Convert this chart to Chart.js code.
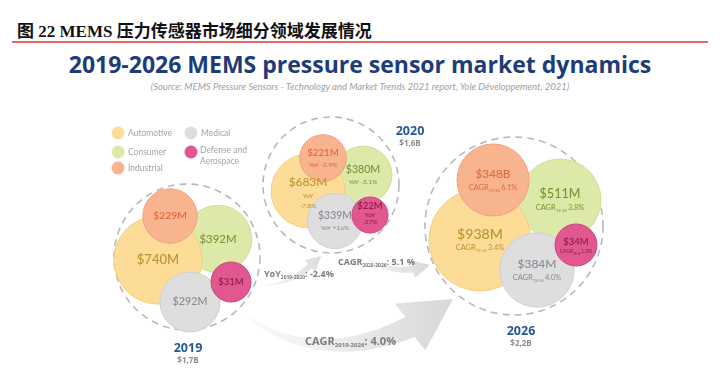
<!DOCTYPE html>
<html>
<head>
<meta charset="utf-8">
<script src="https://cdn.jsdelivr.net/npm/chart.js@4.4.1/dist/chart.umd.min.js"></script>
<style>
  html, body { margin: 0; padding: 0; background: #fff; }
  #wrap { position: relative; width: 720px; height: 369px; overflow: hidden; }
  #chart { position: absolute; left: 0; top: 0; }
  .cap { position: absolute; left: 17px; top: 17px; font: bold 17px "Liberation Serif", "Noto Sans CJK SC"; color: #111; white-space: nowrap; }
  .rule { position: absolute; left: 12px; top: 41px; width: 696px; height: 2px; background: #e46a6a; }
  .title { position: absolute; left: 0; top: 48px; width: 720px; text-align: center; font: bold 23px "Open Sans"; color: #1d3c78; white-space: nowrap; }
  .src { position: absolute; left: 0; top: 81px; width: 720px; text-align: center; font: italic 9.5px Lato; color: #a0a0a0; white-space: nowrap; }
</style>
</head>
<body>
<div id="wrap">
  <div class="cap">图 22 MEMS 压力传感器市场细分领域发展情况</div>
  <div class="rule"></div>
  <div class="title">2019-2026 MEMS pressure sensor market dynamics</div>
  <div class="src">(Source: MEMS Pressure Sensors - Technology and Market Trends 2021 report, Yole Développement, 2021)</div>
  <canvas id="chart" width="720" height="369"></canvas>
</div>
<script>
// market size per segment, $M, for each year bubble group
const categories = ['Automotive', 'Consumer', 'Industrial', 'Medical', 'Defense and Aerospace'];
const years = ['2019', '2020', '2026'];
const yearTotals = ['$1,7B', '$1,6B', '$2,2B'];
const automotive = [740, 683, 938];
const consumer = [392, 380, 511];
const industrial = [229, 221, 348];
const medical = [292, 339, 384];
const defense = [31, 22, 34];
// growth printed inside the 2020 (YoY) and 2026 (CAGR 19-26) bubbles, in category order
const yoy2020 = ['-7.8%', '-3.1%', '-2.9%', '+16%', '-27%'];
const cagr2026 = ['3.4%', '3.8%', '6.1%', '4.0%', '1.3%'];
// growth between the groups, shown along the arrows
const flowNames = ['YoY', 'CAGR', 'CAGR'];
const flowSpans = ['2019-2020', '2020-2026', '2019-2026'];
const flowValues = ['-2.4%', '5.1 %', '4.0%'];

const seriesValues = [automotive, consumer, industrial, medical, defense];

// ---- layout (the scales map 1 unit to 1 px) ----
const fills   = ['#fcdc97', '#dde9a9', '#f8b38f', '#dededf', '#e0588f'];
const borders = ['#f4cf82', '#d0de97', '#f1a27c', '#d0d0d3', '#cc4679'];
const inks    = ['#bb9330', '#7a9334', '#e0683c', '#868894', '#8a1744'];
// bubble packing per year: group centre, dashed ring radius, size curve, offsets per category
const groups = [
  { cx: 187, cy: 257, ring: 73, k: 1.40, b: 6.0, minR: 20, yearAt: [188, 348],
    offsets: [[-29, 3], [31, -18], [-17, -41], [3, 45], [44, 25]] },
  { cx: 331, cy: 185, ring: 68, k: 1.20, b: 5.5, minR: 18, yearAt: [410, 131],
    offsets: [[-23, 6], [32, -10], [-8, -27], [4, 36], [39, 30]] },
  { cx: 514, cy: 226, ring: 89, k: 1.25, b: 12.7, minR: 21, yearAt: [521, 331],
    offsets: [[-34, 14], [46, -26], [-21, -46], [23, 44], [62, 19]] }
];
const drawOrder = [3, 4, 2, 1, 0]; // consumer at the back, defense on top
const legendAt = [[118, 133], [118, 152], [118, 168], [191, 133], [191, 152]];

function bubbleRadius(g, v) {
  return Math.max(g.minR, g.k * Math.sqrt(v) + g.b);
}

function valueText(ci, j, v) {
  // the source slide prints the 2026 industrial figure with a "B"
  return '$' + v + (ci === 2 && j === 2 ? 'B' : 'M');
}

const datasets = categories.map(function (name, ci) {
  return {
    label: name,
    order: drawOrder[ci],
    backgroundColor: fills[ci],
    borderColor: borders[ci],
    borderWidth: 1,
    hoverRadius: 0,
    data: years.map(function (y, j) {
      const g = groups[j];
      return { x: g.cx + g.offsets[ci][0], y: g.cy + g.offsets[ci][1], r: bubbleRadius(g, seriesValues[ci][j]) };
    })
  };
});

// rich text: parts = [{t, size, dy}] drawn left to right
function partsWidth(ctx, parts, weight, family) {
  let w = 0;
  parts.forEach(function (p) { ctx.font = weight + ' ' + p.size + 'px ' + family; w += ctx.measureText(p.t).width; });
  return w;
}
function drawParts(ctx, x, y, parts, weight, family, align) {
  let cx = align === 'center' ? x - partsWidth(ctx, parts, weight, family) / 2 : x;
  ctx.textAlign = 'left';
  ctx.textBaseline = 'alphabetic';
  parts.forEach(function (p) {
    ctx.font = weight + ' ' + p.size + 'px ' + family;
    ctx.fillText(p.t, cx, y + (p.dy || 0));
    cx += ctx.measureText(p.t).width;
  });
}

function taperedArrow(ctx, p0, c, p1, w0, w1, tip, headHalf) {
  const n = 40, left = [], right = [];
  for (let i = 0; i <= n; i++) {
    const t = i / n, u = 1 - t;
    const x = u * u * p0[0] + 2 * u * t * c[0] + t * t * p1[0];
    const y = u * u * p0[1] + 2 * u * t * c[1] + t * t * p1[1];
    const dx = 2 * u * (c[0] - p0[0]) + 2 * t * (p1[0] - c[0]);
    const dy = 2 * u * (c[1] - p0[1]) + 2 * t * (p1[1] - c[1]);
    const len = Math.hypot(dx, dy) || 1;
    const w = (w0 + (w1 - w0) * t) / 2;
    left.push([x - dy / len * w, y + dx / len * w]);
    right.push([x + dy / len * w, y - dx / len * w]);
  }
  const hx = tip[0] - p1[0], hy = tip[1] - p1[1], hl = Math.hypot(hx, hy);
  const nx = -hy / hl, ny = hx / hl;
  ctx.beginPath();
  left.forEach(function (p, i) { i ? ctx.lineTo(p[0], p[1]) : ctx.moveTo(p[0], p[1]); });
  ctx.lineTo(p1[0] + nx * headHalf, p1[1] + ny * headHalf);
  ctx.lineTo(tip[0], tip[1]);
  ctx.lineTo(p1[0] - nx * headHalf, p1[1] - ny * headHalf);
  right.reverse().forEach(function (p) { ctx.lineTo(p[0], p[1]); });
  ctx.closePath();
  ctx.fill();
}

const decor = {
  id: 'decor',
  beforeDatasetsDraw(chart) {
    const ctx = chart.ctx, xs = chart.scales.x, ys = chart.scales.y;
    const P = function (x, y) { return [xs.getPixelForValue(x), ys.getPixelForValue(y)]; };
    ctx.save();
    // arrows between the year groups
    let grad = ctx.createLinearGradient(246, 0, 440, 0);
    grad.addColorStop(0, 'rgba(222,222,222,0.15)');
    grad.addColorStop(1, '#dadada');
    ctx.fillStyle = grad;
    taperedArrow(ctx, P(246, 316), P(318, 368), P(410, 327), 1, 22, P(453, 299), 28);
    grad = ctx.createLinearGradient(360, 0, 430, 0);
    grad.addColorStop(0, 'rgba(222,222,222,0.2)');
    grad.addColorStop(1, '#d8d8d8');
    ctx.fillStyle = grad;
    taperedArrow(ctx, P(362, 251), P(378, 273), P(413, 269), 1, 7, P(430, 265), 9);
    grad = ctx.createLinearGradient(262, 0, 321, 0);
    grad.addColorStop(0, 'rgba(222,222,222,0.2)');
    grad.addColorStop(1, '#dcdcdc');
    ctx.fillStyle = grad;
    taperedArrow(ctx, P(262, 286), P(290, 284), P(310, 266), 1, 6, P(321, 256), 8);
    // dashed rings round each year
    ctx.strokeStyle = '#b9b9b9';
    ctx.lineWidth = 1.6;
    ctx.setLineDash([7, 5]);
    groups.forEach(function (g) {
      const c = P(g.cx, g.cy);
      ctx.beginPath();
      ctx.arc(c[0], c[1], g.ring, 0, Math.PI * 2);
      ctx.stroke();
    });
    ctx.restore();
  },
  afterDatasetsDraw(chart) {
    const ctx = chart.ctx, xs = chart.scales.x, ys = chart.scales.y;
    const P = function (x, y) { return [xs.getPixelForValue(x), ys.getPixelForValue(y)]; };
    ctx.save();
    // values inside bubbles
    categories.forEach(function (name, ci) {
      const meta = chart.getDatasetMeta(ci);
      meta.data.forEach(function (el, j) {
        const r = el.options.radius;
        const fs = Math.max(9.5, Math.min(14.5, 6 + r * 0.16));
        const v = valueText(ci, j, seriesValues[ci][j]);
        ctx.fillStyle = inks[ci];
        ctx.textAlign = 'center';
        ctx.textBaseline = 'middle';
        if (j === 0) {
          ctx.font = '500 ' + fs + 'px Lato';
          ctx.fillText(v, el.x, el.y);
        } else if (j === 1) {
          const stacked = ci === 0 || ci === 4;
          const top = stacked ? el.y - 9 : el.y - 5;
          ctx.font = '500 ' + fs + 'px Lato';
          ctx.fillText(v, el.x, top);
          ctx.font = '6.5px Lato';
          if (stacked) {
            ctx.fillText('YoY', el.x, top + (ci === 0 ? 14 : 9));
            ctx.fillText(yoy2020[ci], el.x, top + (ci === 0 ? 24 : 16));
          } else {
            ctx.fillText('YoY ' + yoy2020[ci], el.x, top + 12);
          }
        } else {
          const small = r < 25;
          const top = el.y - (small ? 3 : 6);
          ctx.font = '500 ' + fs + 'px Lato';
          ctx.fillText(v, el.x, top);
          const s = small ? 5 : 7.5;
          drawParts(ctx, el.x, top + (small ? 11 : 16), [
            { t: 'CAGR', size: s }, { t: '19-26 ', size: s * 0.55, dy: 1.5 }, { t: cagr2026[ci], size: s }
          ], 'normal', 'Lato', 'center');
        }
      });
    });
    // year + total
    years.forEach(function (y, j) {
      const p = P(groups[j].yearAt[0], groups[j].yearAt[1]);
      ctx.textAlign = 'center';
      ctx.textBaseline = 'middle';
      ctx.fillStyle = '#245796';
      ctx.font = 'bold 12.5px "Open Sans"';
      ctx.fillText(y, p[0], p[1]);
      ctx.fillStyle = '#8c8c8c';
      ctx.font = 'bold 8px "Open Sans"';
      ctx.fillText(yearTotals[j], p[0], p[1] + 13);
    });
    // growth along the arrows
    ctx.fillStyle = '#7b7b7b';
    const flowAt = [[264, 277, 9], [338, 265, 9], [305, 345, 11]];
    flowNames.forEach(function (n, i) {
      const f = flowAt[i], p = P(f[0], f[1]);
      drawParts(ctx, p[0], p[1], [
        { t: n, size: f[2] }, { t: flowSpans[i], size: f[2] * 0.55, dy: 2 }, { t: ': ' + flowValues[i], size: f[2] }
      ], 'bold', '"Open Sans"', 'left');
    });
    // legend
    categories.forEach(function (name, ci) {
      const p = P(legendAt[ci][0], legendAt[ci][1]);
      ctx.fillStyle = fills[ci];
      ctx.beginPath();
      ctx.arc(p[0], p[1], 6.5, 0, Math.PI * 2);
      ctx.fill();
      ctx.fillStyle = '#a3a3a3';
      ctx.font = '8.5px Lato';
      ctx.textAlign = 'left';
      ctx.textBaseline = 'middle';
      if (ci === 4) {
        ctx.fillText('Defense and', p[0] + 9, p[1] - 2);
        ctx.fillText('Aerospace', p[0] + 9, p[1] + 9);
      } else {
        ctx.fillText(name, p[0] + 10, p[1] + 0.5);
      }
    });
    ctx.restore();
  }
};

new Chart(document.getElementById('chart').getContext('2d'), {
  type: 'bubble',
  data: { datasets: datasets },
  options: {
    responsive: false,
    animation: false,
    events: [],
    layout: { padding: 0, autoPadding: false },
    scales: {
      x: { type: 'linear', min: 0, max: 720, display: false },
      y: { type: 'linear', min: 0, max: 369, reverse: true, display: false }
    },
    plugins: { legend: { display: false }, tooltip: { enabled: false } }
  },
  plugins: [decor]
});
</script>
</body>
</html>
